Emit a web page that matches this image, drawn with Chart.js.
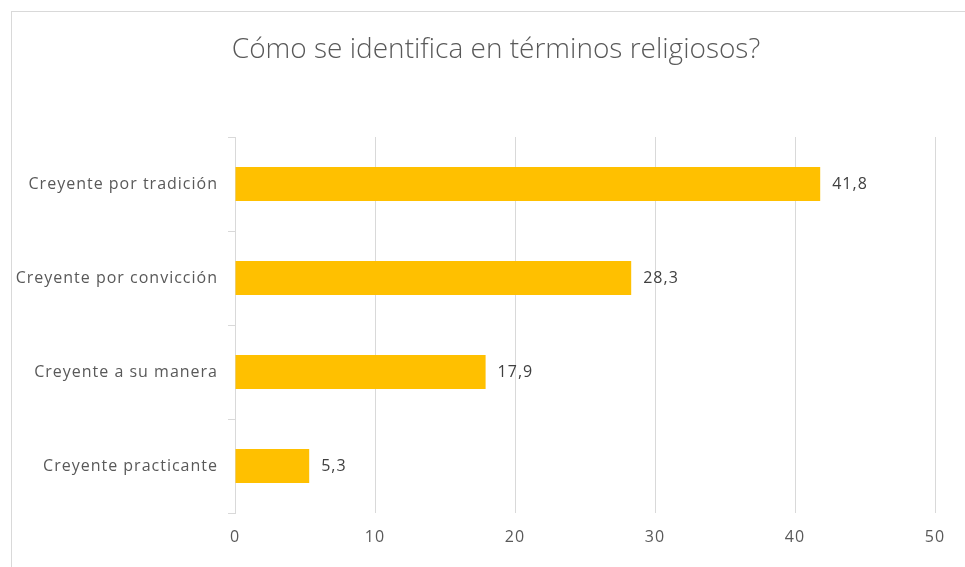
<!DOCTYPE html>
<html>
<head>
<meta charset="utf-8">
<script src="https://cdn.jsdelivr.net/npm/chart.js@4"></script>
<style>
  body { margin: 0; background: #fff; }
  #caja { position: relative; width: 965px; height: 567px; overflow: hidden; }
  #marco { position: absolute; left: 11px; top: 11px; width: 1000px; height: 600px; border: 1px solid #d9d9d9; }
  canvas { position: absolute; left: 0; top: 0; }
</style>
</head>
<body>
<div id="caja">
  <div id="marco"></div>
  <canvas id="grafico" width="965" height="567"></canvas>
</div>
<script>
const categorias = ['Creyente por tradición', 'Creyente por convicción', 'Creyente a su manera', 'Creyente practicante'];
const valores = [41.8, 28.3, 17.9, 5.3];
const titulo = 'Cómo se identifica en términos religiosos?';

// espaciado de letras como en el original
const espaciado = {
  id: 'espaciado',
  beforeDraw(chart) { chart.ctx.letterSpacing = '1px'; }
};

// etiquetas de valor al final de cada barra + titulo centrado en el marco
const etiquetas = {
  id: 'etiquetas',
  afterDatasetsDraw(chart) {
    const ctx = chart.ctx;
    ctx.save();
    ctx.letterSpacing = '1px';
    ctx.font = '16px "Open Sans"';
    ctx.fillStyle = '#404040';
    ctx.textAlign = 'left';
    ctx.textBaseline = 'middle';
    chart.getDatasetMeta(0).data.forEach((barra, i) => {
      ctx.fillText(valores[i].toFixed(1).replace('.', ','), barra.x + 12, barra.y);
    });
    ctx.restore();
  },
  afterDraw(chart) {
    const ctx = chart.ctx;
    ctx.save();
    ctx.letterSpacing = '0px';
    ctx.font = '300 28px "Open Sans"';
    ctx.fillStyle = '#595959';
    ctx.textAlign = 'center';
    ctx.textBaseline = 'middle';
    ctx.fillText(titulo, 496, 50);
    ctx.restore();
  }
};

new Chart(document.getElementById('grafico'), {
  type: 'bar',
  data: {
    labels: categorias,
    datasets: [{
      data: valores,
      backgroundColor: '#FFC000',
      categoryPercentage: 1,
      barPercentage: 0.36
    }]
  },
  options: {
    indexAxis: 'y',
    responsive: false,
    animation: false,
    layout: { padding: { left: 0, right: 30, top: 137, bottom: 0 } },
    plugins: {
      legend: { display: false },
      tooltip: { enabled: false },
      title: { display: false }
    },
    scales: {
      x: {
        min: 0,
        max: 50,
        ticks: { stepSize: 10, color: '#595959', font: { family: 'Open Sans', size: 16 }, padding: 15 },
        grid: { color: '#d9d9d9', drawTicks: false },
        border: { display: false },
        afterFit(scale) { scale.height = 54; }
      },
      y: {
        ticks: { color: '#595959', font: { family: 'Open Sans', size: 16 }, padding: 10 },
        grid: { color: '#d9d9d9', drawOnChartArea: false, tickLength: 7 },
        border: { color: '#d9d9d9' },
        afterFit(scale) { scale.width = 235; }
      }
    }
  },
  plugins: [espaciado, etiquetas]
});
</script>
</body>
</html>
